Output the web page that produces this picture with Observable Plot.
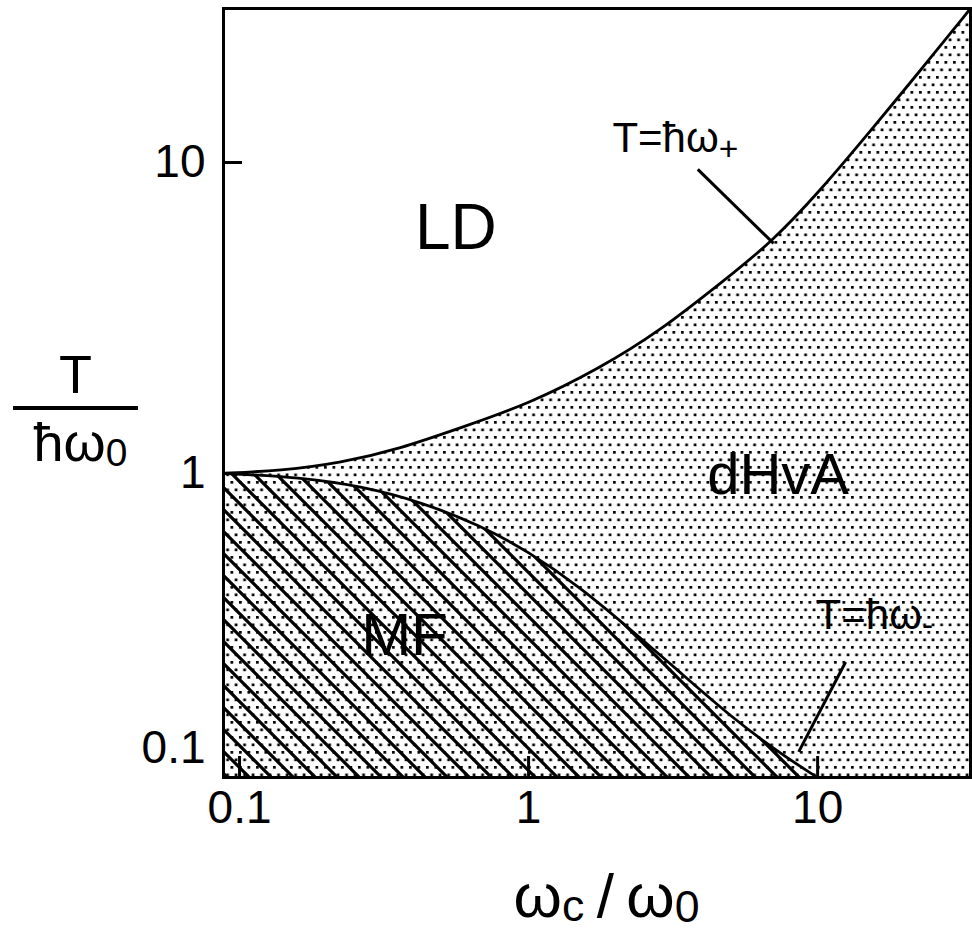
<!DOCTYPE html>
<html><head><meta charset="utf-8">
<script src="https://cdn.jsdelivr.net/npm/d3@7"></script>
<script src="https://cdn.jsdelivr.net/npm/@observablehq/plot@0.6"></script>
<style>
body{margin:0;background:#fff;font-family:"Liberation Sans",Arial,sans-serif;}
#wrap{position:relative;width:972px;height:930px;}
.lab{position:absolute;color:#000;white-space:nowrap;line-height:1;}
</style></head><body><div id="wrap"></div>
<script>
// upper boundary T = ħω+
const upperX = [0.088, 0.139, 0.224, 0.36, 0.58, 1.0, 1.77, 2.86, 4.6, 6.88, 10.2, 15.3, 22.7, 33.8];
const upperY = [1.0, 1.02, 1.08, 1.20, 1.40, 1.67, 2.18, 2.88, 4.08, 5.5, 8.1, 12.7, 19.8, 31.3];
// lower boundary T = ħω-
const lowerX = [0.088, 0.163, 0.262, 0.423, 0.68, 1.0, 1.51, 2.25, 3.36, 5.0, 7.45, 10.0];
const lowerY = [1.0, 0.97, 0.91, 0.81, 0.68, 0.56, 0.43, 0.315, 0.228, 0.165, 0.125, 0.105];

const xDomain = [0.088, 33.8];
const yDomain = [0.105, 31.3];
const xTicks = [0.1, 1, 10];
const xTickLabels = ["0.1", "1", "10"];
const yTicks = [1, 10];
const yTickLabels = ["1", "10"];
const yLowTick = [0.1];
const yLowTickLabel = ["0.1"];

const regionNames = ["LD", "dHvA", "MF"];
const regionX = [0.56, 7.3, 0.372];
const regionY = [6.13, 0.985, 0.30];

const annoText = ["T=ħω", "T=ħω"];
const annoSub = ["+", "-"];
const annoX = [1.95, 9.84];
const annoY = [11.9, 0.349];
const leaderX1 = [3.85, 12.5];
const leaderY1 = [9.5, 0.247];
const leaderX2 = [7.04, 8.6];
const leaderY2 = [5.49, 0.127];

const upper = upperX.map((x, i) => ({x, y: upperY[i]}));
const lower = lowerX.map((x, i) => ({x, y: lowerY[i]}));
const regions = regionNames.map((t, i) => ({t, x: regionX[i], y: regionY[i]}));
const annos = annoText.map((t, i) => ({t, s: annoSub[i], x: annoX[i], y: annoY[i]}));
const leaders = leaderX1.map((x1, i) => ({x1, y1: leaderY1[i], x2: leaderX2[i], y2: leaderY2[i]}));

const curve = "basis";
const W = 972, H = 930, mL = 223, mR = 2, mT = 8, mB = 153;

const chart = Plot.plot({
  width: W, height: H,
  marginLeft: mL, marginRight: mR, marginTop: mT, marginBottom: mB,
  style: {fontFamily: '"Liberation Sans", Arial, sans-serif', background: "white", color: "black"},
  x: {type: "log", domain: xDomain},
  y: {type: "log", domain: yDomain},
  marks: [
    Plot.areaY(upper, {x: "x", y1: yDomain[0], y2: "y", fill: "black", curve}),
    Plot.areaY(lower, {x: "x", y1: yDomain[0], y2: "y", fill: "black", curve}),
    Plot.line(upper, {x: "x", y: "y", stroke: "black", strokeWidth: 2.8, curve}),
    Plot.line(lower, {x: "x", y: "y", stroke: "black", strokeWidth: 2.8, curve}),
    Plot.tickX(xTicks, {x: d => d, stroke: "black", strokeWidth: 3, insetTop: H - mT - mB - 21}),
    Plot.tickY(yTicks, {y: d => d, stroke: "black", strokeWidth: 3, insetRight: W - mL - mR - 19}),
    Plot.frame({stroke: "black", strokeWidth: 3}),
    Plot.axisX({ticks: xTicks, tickFormat: d => xTickLabels[xTicks.indexOf(d)], tickSize: 0, tickPadding: 13, fontSize: 46, label: null}),
    Plot.axisY({ticks: yTicks, tickFormat: d => yTickLabels[yTicks.indexOf(d)], tickSize: 0, tickPadding: 18, fontSize: 46, label: null}),
    Plot.axisY({ticks: yLowTick, tickFormat: d => yLowTickLabel[yLowTick.indexOf(d)], tickSize: 0, tickPadding: 18, fontSize: 46, dy: -36, label: null}),
    Plot.text(regions.filter(d => d.t === "LD"), {x: "x", y: "y", text: "t", fontSize: 64, fill: "black"}),
    Plot.text(regions.filter(d => d.t === "dHvA"), {x: "x", y: "y", text: "t", fontSize: 58, fill: "black"}),
    Plot.text(regions.filter(d => d.t === "MF"), {x: "x", y: "y", text: "t", fontSize: 60, fill: "black"}),
    Plot.text(annos, {x: "x", y: "y", text: d => d.t + d.s, fontSize: 42, textAnchor: "start", fill: "black"}),
    Plot.link(leaders, {x1: "x1", y1: "y1", x2: "x2", y2: "y2", stroke: "black", strokeWidth: 3})
  ]
});

const svg = d3.select(chart);
const defs = svg.insert("defs", ":first-child");
const dots = defs.append("pattern").attr("id", "dots").attr("patternUnits", "userSpaceOnUse")
  .attr("width", 8.5).attr("height", 15);
dots.append("rect").attr("x", 1).attr("y", 1).attr("width", 2.7).attr("height", 2.7).attr("fill", "black");
dots.append("rect").attr("x", 5.25).attr("y", 8.5).attr("width", 2.7).attr("height", 2.7).attr("fill", "black");
const hatch = defs.append("pattern").attr("id", "hatch").attr("patternUnits", "userSpaceOnUse")
  .attr("width", 22).attr("height", 22);
hatch.append("path").attr("d", "M-2,-2L24,24M-13,9L13,35M9,-13L35,13")
  .attr("stroke", "black").attr("stroke-width", 3.2).attr("fill", "none");

const areas = svg.selectAll('g[aria-label="area"]').nodes();
if (areas[0]) { d3.select(areas[0]).attr("fill", "url(#dots)").selectAll("path").attr("fill", "url(#dots)"); }
if (areas[1]) { d3.select(areas[1]).attr("fill", "url(#hatch)").selectAll("path").attr("fill", "url(#hatch)"); }

// render the + / - as subscripts
svg.selectAll("text").each(function() {
  const t = this.textContent;
  for (const a of annos) {
    if (t === a.t + a.s) {
      this.textContent = a.t;
      d3.select(this).append("tspan").attr("font-size", "0.8em").attr("dy", "0.22em").text(a.s);
    }
  }
});

const wrap = document.getElementById("wrap");
wrap.appendChild(chart);

// y-axis label: T over ħω0
const yT = document.createElement("div");
yT.className = "lab";
yT.style.cssText = "left:13px;width:125px;text-align:center;top:347px;font-size:54px;line-height:54px;";
yT.textContent = "T";
wrap.appendChild(yT);
const bar = document.createElement("div");
bar.style.cssText = "position:absolute;left:13px;top:406px;width:125px;height:4px;background:#000;";
wrap.appendChild(bar);
const yB = document.createElement("div");
yB.className = "lab";
yB.style.cssText = "left:13px;width:135px;text-align:center;top:415px;font-size:54px;line-height:54px;";
yB.innerHTML = 'ħω<span style="font-size:0.72em;position:relative;top:0.12em;">0</span>';
wrap.appendChild(yB);

// x-axis label: ωc/ω0
const xl = document.createElement("div");
xl.className = "lab";
xl.style.cssText = "left:223px;width:767px;text-align:center;top:865px;font-size:62px;line-height:62px;";
xl.innerHTML = 'ω<span style="font-size:0.72em;position:relative;top:0.1em;">c</span>&thinsp;/&thinsp;ω<span style="font-size:0.72em;position:relative;top:0.12em;">0</span>';
wrap.appendChild(xl);
</script>
</body></html>
